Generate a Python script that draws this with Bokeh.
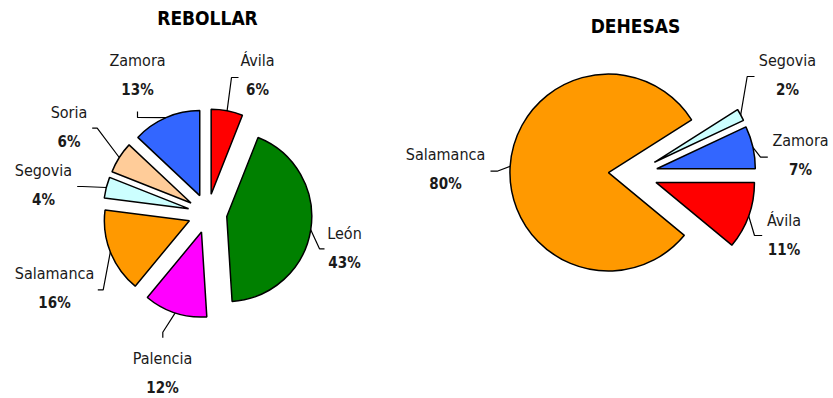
import numpy as np
from bokeh.plotting import figure
from bokeh.models import Range1d, ColumnDataSource
from bokeh.core.properties import value
from bokeh.embed import file_html
from bokeh.resources import INLINE

# ---------------- data ----------------
reb_names = ["Ávila", "León", "Palencia", "Salamanca", "Segovia", "Soria", "Zamora"]
reb_pct = [6, 43, 12, 16, 4, 6, 13]
reb_colors = ["#FF0000", "#008000", "#FF00FF", "#FF9900", "#CCFFFF", "#FFCC99", "#3366FF"]

deh_names = ["Ávila", "Salamanca", "Segovia", "Zamora"]
deh_pct = [11, 80, 2, 7]
deh_colors = ["#FF0000", "#FF9900", "#CCFFFF", "#3366FF"]

titles = ["REBOLLAR", "DEHESAS"]

# ---------------- layout (window pixel coords, y down) ----------------
WIN_H = 398
FONT = "DejaVu Sans Condensed"

reb_center = (207, 213); reb_r = 85; reb_explode = 19.5; reb_start = 90
deh_center = (632.4, 173.6); deh_r = 98.5; deh_explode = 24.5; deh_start = 0

# label centre x, name y (pct drawn 29px lower)
reb_lab_x = [257, 344, 162, 54, 43, 68.5, 137]
reb_lab_y = [60, 233, 358, 273, 170, 112, 60]
reb_lead_end = [(238, 77), (324, 248.3), (162.3, 337.3), (97.3, 289.3), (76.7, 186), (91.7, 127.7), (137, 111)]
reb_lead_elb = [(231, 77), (319, 248.3), (162.3, 331.7), (102.7, 289.3), (82, 186), (96.7, 127.7), (137, 117)]

deh_lab_x = [783.5, 445, 787, 800]
deh_lab_y = [220, 154, 60, 140]
deh_lead_end = [(761.7, 235), (490, 170.7), (754, 76), (767.3, 156.7)]
deh_lead_elb = [(754, 235), (496.7, 170.7), (746.7, 76), (760, 156.7)]

title_pos = [(207, 17.5), (635, 25)]


def Y(y):
    return WIN_H - y


p = figure(width=833, height=398, x_range=Range1d(0, 833), y_range=Range1d(0, 398),
           output_backend="svg", toolbar_location=None, min_border=0,
           x_axis_location=None, y_axis_location=None)
p.grid.visible = False
p.outline_line_color = None
p.background_fill_color = "white"


def pie(names, vals, colors, center, r, d, start_deg, lab_x, lab_y, lead_end, lead_elb):
    vals = np.array(vals, dtype=float)
    ang = 2 * np.pi * vals / vals.sum()
    a0 = np.radians(start_deg) - np.concatenate([[0.0], np.cumsum(ang)[:-1]])
    a1 = a0 - ang
    mid = (a0 + a1) / 2
    cx, cy = center[0], Y(center[1])
    xs = cx + d * np.cos(mid)
    ys = cy + d * np.sin(mid)
    src = ColumnDataSource(dict(x=xs, y=ys, s=a1, e=a0, c=colors))
    p.wedge(x="x", y="y", radius=r, start_angle="s", end_angle="e", direction="anticlock",
            fill_color="c", line_color="black", line_width=1.5, source=src)
    # leader lines
    lx, ly = [], []
    for i in range(len(vals)):
        sx = xs[i] + r * np.cos(mid[i])
        sy = ys[i] + r * np.sin(mid[i])
        lx.append([sx, lead_elb[i][0], lead_end[i][0]])
        ly.append([sy, Y(lead_elb[i][1]), Y(lead_end[i][1])])
    p.multi_line(xs=lx, ys=ly, line_color="black", line_width=1.2)
    # labels
    p.text(x=lab_x, y=[Y(v) for v in lab_y], text=names, text_align="center",
           text_baseline="middle", text_font=value(FONT), text_font_size="16px",
           text_color="#1a1a1a")
    p.text(x=lab_x, y=[Y(v + 29) for v in lab_y], text=[f"{int(v)}%" for v in vals],
           text_align="center", text_baseline="middle", text_font=value(FONT),
           text_font_size="15px", text_font_style="bold", text_color="#1a1a1a")


pie(reb_names, reb_pct, reb_colors, reb_center, reb_r, reb_explode, reb_start,
    reb_lab_x, reb_lab_y, reb_lead_end, reb_lead_elb)
pie(deh_names, deh_pct, deh_colors, deh_center, deh_r, deh_explode, deh_start,
    deh_lab_x, deh_lab_y, deh_lead_end, deh_lead_elb)

p.text(x=[t[0] for t in title_pos], y=[Y(t[1]) for t in title_pos], text=titles,
       text_align="center", text_baseline="middle", text_font=value(FONT),
       text_font_size="19px", text_font_style="bold", text_color="black")

open("out.html", "w").write(file_html(p, INLINE))
